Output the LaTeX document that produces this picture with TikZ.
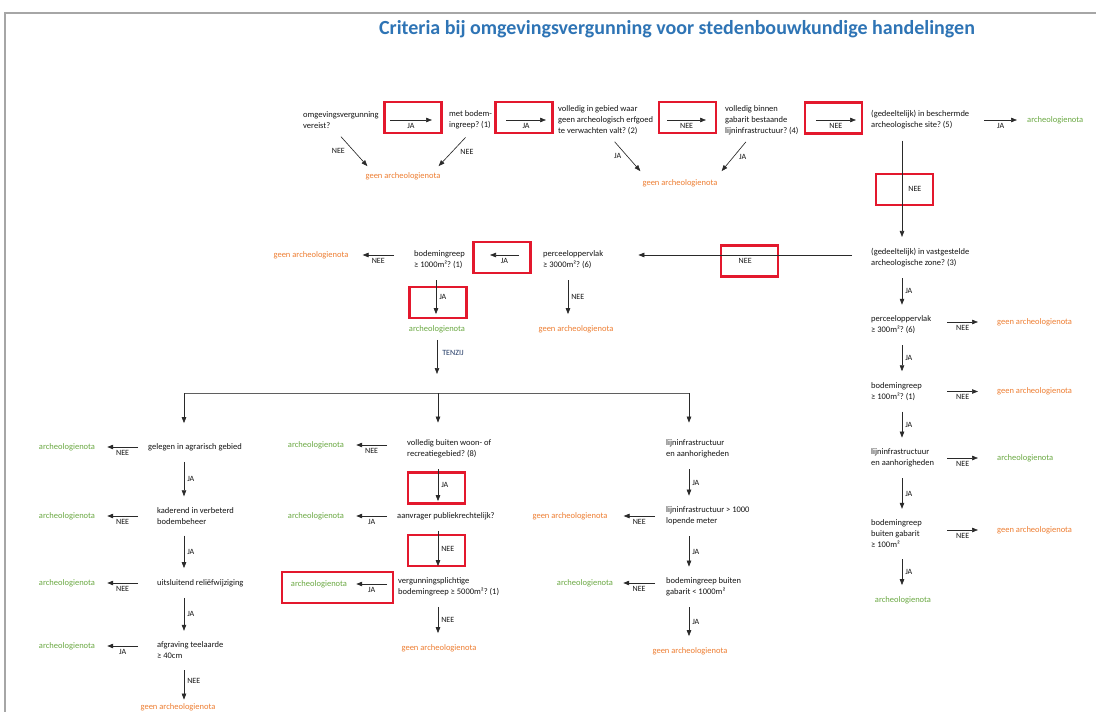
\documentclass[tikz,border=0pt]{standalone}
\usepackage{fontspec}
\setmainfont{Carlito}
\usetikzlibrary{arrows.meta}
\definecolor{titelblauw}{HTML}{2E74B5}
\definecolor{notagroen}{HTML}{6AA842}
\definecolor{geenoranje}{HTML}{ED7D31}
\definecolor{kaderrood}{HTML}{E3182D}
\definecolor{tekst}{HTML}{141414}
\definecolor{pijlgrijs}{HTML}{2A2A2A}
\definecolor{randgrijs}{HTML}{A6A6A6}
\definecolor{tenzijblauw}{HTML}{203864}
\tikzset{
  vraag/.style={anchor=west, align=left, inner sep=0pt, text=tekst, font=\fontsize{8.5}{11}\selectfont\frenchspacing},
  kolom/.style={vraag, align=flush left, text width=66pt},
  nota/.style={inner sep=0pt, text=notagroen, font=\fontsize{8.5}{11}\selectfont},
  geen/.style={nota, text=geenoranje},
  lbl/.style={inner sep=0pt, text=tekst, font=\fontsize{8}{9}\selectfont},
  pijl/.style={draw=pijlgrijs, line width=0.65pt, -{Triangle[length=6pt,width=4.5pt]}},
  neer/.style={pijl, shorten <=11pt, shorten >=11pt},
  tak/.style={draw=pijlgrijs!75, line width=1pt},
  kader/.style={draw=kaderrood, line width=2.5pt, minimum width=57pt, minimum height=31pt, inner sep=0pt},
}
\begin{document}
\begin{tikzpicture}[x=1pt, y=-1pt]
	\useasboundingbox (0,0) rectangle (1096,712);
	\draw[randgrijs, line width=1.5pt] (1096,13) -- (5,13) -- (5,712);
	\node[font=\bfseries\fontsize{20}{22}\selectfont, text=titelblauw] (titel) at (677,29) {Criteria bij omgevingsvergunning voor stedenbouwkundige handelingen};

	\coordinate (kolA) at (184,0);
	\coordinate (kolB) at (436,0);
	\coordinate (kolC) at (568,0);
	\coordinate (kolM) at (438,0);
	\coordinate (kol3) at (689,0);
	\coordinate (kolR) at (902,0);

	% rode kaders
	\node[kader] (k1) at (413,117.5) {};
	\node[kader] (k2) at (524,117.5) {};
	\node[kader] (k3) at (687.5,117.5) {};
	\node[kader] (k4) at (833.5,118) {};
	\node[kader] (k5) at (904.5,189.5) {};
	\node[kader] (k6) at (749.5,261) {};
	\node[kader] (k7) at (502,257.5) {};
	\node[kader] (k8) at (438,302.5) {};
	\node[kader] (k9) at (436.5,488) {};
	\node[kader] (k10) at (436.5,550.5) {};
	\node[kader, minimum width=111pt] (k11) at (337.5,587.5) {};

	% bovenste rij
	\node[vraag] (vergunning) at (303,120) {omgevingsvergunning\\vereist?};
	\node[vraag] (ingreep) at (449,120) {met bodem-\\ingreep? (1)};
	\node[vraag] (erfgoed) at (558,120) {volledig in gebied waar\\geen archeologisch erfgoed\\te verwachten valt? (2)};
	\node[vraag] (gabarit) at (725,120) {volledig binnen\\gabarit bestaande\\lijninfrastructuur? (4)};
	\node[vraag] (site) at (871,120) {(gedeeltelijk) in beschermde\\archeologische site? (5)};
	\node[nota, anchor=west] (notasite) at (1027,120) {archeologienota};
	\node[geen] (geen1) at (403,176) {geen archeologienota};
	\node[geen] (geen2) at (680,183) {geen archeologienota};
	\draw[pijl] ([xshift=11pt]vergunning.east) to node[lbl, below=3pt] {JA} ([xshift=-17pt]ingreep.west);
	\draw[pijl] ([xshift=14pt]ingreep.east) to node[lbl, below=3pt] {JA} ([xshift=-12pt]erfgoed.west);
	\draw[pijl] ([xshift=14pt]erfgoed.east) to node[lbl, below=3pt] {NEE} ([xshift=-19pt]gabarit.west);
	\draw[pijl] ([xshift=17pt]gabarit.east) to node[lbl, below=3pt] {NEE} ([xshift=-15pt]site.west);
	\draw[pijl] ([xshift=15pt]site.east) to node[lbl, below=3pt] {JA} ([xshift=-10pt]notasite.west);
	\draw[pijl] ([yshift=-8pt]vergunning.south) to node[lbl, left=9pt] {NEE} ([xshift=2pt,yshift=6pt]geen1.north west);
	\draw[pijl] ([xshift=-5pt,yshift=-8pt]ingreep.south) to node[lbl, right=8pt] {NEE} ([xshift=-2pt,yshift=6pt]geen1.north east);
	\draw[pijl] ([xshift=9pt,yshift=-7pt]erfgoed.south) to node[lbl, left=6pt] {JA} ([xshift=-2pt,yshift=8pt]geen2.north west);
	\draw[pijl] ([xshift=-16pt,yshift=-7pt]gabarit.south) to node[lbl, right=5pt] {JA} ([xshift=4pt,yshift=8pt]geen2.north east);

	% rechterkolom
	\node[vraag] (zone) at (871,257.5) {(gedeeltelijk) in vastgestelde\\archeologische zone? (3)};
	\node[kolom] (perceel300) at (871,325) {perceeloppervlak\\≥ 300m²? (6)};
	\node[kolom] (ingreep100) at (871,391.5) {bodemingreep\\≥ 100m²? (1)};
	\node[kolom] (lijn) at (871,458) {lijninfrastructuur\\en aanhorigheden};
	\node[kolom] (buiten100) at (871,534) {bodemingreep\\buiten gabarit\\≥ 100m²};
	\node[nota] (notaR) at (903,600) {archeologienota};
	\node[geen, anchor=west] (geen300) at (997,322) {geen archeologienota};
	\node[geen, anchor=west] (geen100) at (997,391.5) {geen archeologienota};
	\node[nota, anchor=west] (notalijn) at (997,458) {archeologienota};
	\node[geen, anchor=west] (geenbuiten) at (997,530) {geen archeologienota};
	\draw[neer] (site.south -| kolR) to node[lbl, right=6pt] {NEE} (zone.north -| kolR);
	\draw[neer] (zone.south -| kolR) to node[lbl, right=3pt] {JA} (perceel300.north -| kolR);
	\draw[neer] (perceel300.south -| kolR) to node[lbl, right=3pt] {JA} (ingreep100.north -| kolR);
	\draw[neer] (ingreep100.south -| kolR) to node[lbl, right=3pt] {JA} (lijn.north -| kolR);
	\draw[neer] (lijn.south -| kolR) to node[lbl, right=3pt] {JA} (buiten100.north -| kolR);
	\draw[neer] (buiten100.south -| kolR) to node[lbl, right=3pt] {JA} (notaR.north -| kolR);
	\draw[pijl] ([xshift=10pt,yshift=3pt]perceel300.east) to node[lbl, below=3pt] {NEE} ([xshift=-19pt]geen300.west);
	\draw[pijl] ([xshift=10pt]ingreep100.east) to node[lbl, below=3pt] {NEE} ([xshift=-19pt]geen100.west);
	\draw[pijl] ([xshift=10pt]lijn.east) to node[lbl, below=3pt] {NEE} ([xshift=-19pt]notalijn.west);
	\draw[pijl] ([xshift=10pt,yshift=4pt]buiten100.east) to node[lbl, below=3pt] {NEE} ([xshift=-19pt]geenbuiten.west);

	% tweede rij
	\node[vraag] (perceel3000) at (543,260) {perceeloppervlak\\≥ 3000m²? (6)};
	\node[vraag] (ingreep1000) at (414,260) {bodemingreep\\≥ 1000m²? (1)};
	\node[geen] (geen1000) at (311,255) {geen archeologienota};
	\node[geen] (geen3000) at (576,329) {geen archeologienota};
	\node[nota] (nota1000) at (437,329) {archeologienota};
	\draw[pijl] ([xshift=-19pt,yshift=2.5pt]zone.west) to node[lbl, below=3pt] {NEE} ([xshift=35pt,yshift=5pt]perceel3000.east);
	\draw[pijl] ([xshift=-24pt,yshift=5pt]perceel3000.west) to node[lbl, below=3pt] {JA} ([xshift=25pt,yshift=5pt]ingreep1000.east);
	\draw[pijl] ([xshift=-20pt,yshift=5pt]ingreep1000.west) to node[lbl, below=3pt] {NEE} ([xshift=14pt]geen1000.east);
	\draw[neer] (perceel3000.south -| kolC) to node[lbl, right=3pt] {NEE} (geen3000.north -| kolC);
	\draw[neer] (ingreep1000.south -| kolB) to node[lbl, right=3pt] {JA} (nota1000.north -| kolB);

	% tenzij
	\coordinate (tenzij) at (437,374);
	\coordinate (splitA) at (184,393);
	\coordinate (splitM) at (438,393);
	\coordinate (split3) at (689,393);
	\draw[pijl, shorten <=7pt] (nota1000.south) to node[lbl, right=5pt, text=tenzijblauw] {TENZIJ} (tenzij);
	\draw[tak] (splitA) -- (split3);

	% linkerkolom
	\node[vraag] (agrarisch) at (148,447) {gelegen in agrarisch gebied};
	\node[vraag] (kaderend) at (157,516) {kaderend in verbeterd\\bodembeheer};
	\node[vraag] (relief) at (157,583) {uitsluitend reliëfwijziging};
	\node[vraag] (teelaarde) at (157,650.5) {afgraving teelaarde\\≥ 40cm};
	\node[geen] (geenteel) at (178,707.5) {geen archeologienota};
	\node[nota] (notaagr) at (67,447) {archeologienota};
	\node[nota] (notakad) at (67,516) {archeologienota};
	\node[nota] (notarel) at (67,583) {archeologienota};
	\node[nota] (notateel) at (67,646) {archeologienota};
	\draw[pijl, shorten >=20pt] (splitA) -- (agrarisch.north -| splitA);
	\draw[neer] (agrarisch.south -| kolA) to node[lbl, right=3pt] {JA} (kaderend.north -| kolA);
	\draw[neer] (kaderend.south -| kolA) to node[lbl, right=3pt] {JA} (relief.north -| kolA);
	\draw[neer] (relief.south -| kolA) to node[lbl, right=3pt] {JA} (teelaarde.north -| kolA);
	\draw[neer, shorten >=4pt] (teelaarde.south -| kolA) to node[lbl, right=3pt] {NEE} (geenteel.north -| kolA);
	\draw[pijl] ([xshift=-10pt]agrarisch.west) to node[lbl, below=3pt] {NEE} ([xshift=12pt]notaagr.east);
	\draw[pijl] ([xshift=-19pt]kaderend.west) to node[lbl, below=3pt] {NEE} ([xshift=12pt]notakad.east);
	\draw[pijl] ([xshift=-19pt]relief.west) to node[lbl, below=3pt] {NEE} ([xshift=12pt]notarel.east);
	\draw[pijl] ([xshift=-19pt,yshift=4.5pt]teelaarde.west) to node[lbl, below=3pt] {JA} ([xshift=12pt]notateel.east);

	% middenkolom
	\node[vraag] (buitenwoon) at (407,449) {volledig buiten woon- of\\recreatiegebied? (8)};
	\node[vraag] (publiek) at (397,516) {aanvrager publiekrechtelijk?};
	\node[vraag] (ingreep5000) at (398,586.5) {vergunningsplichtige\\bodemingreep ≥ 5000m²? (1)};
	\node[geen] (geen5000) at (439,648) {geen archeologienota};
	\node[nota] (notawoon) at (316,445) {archeologienota};
	\node[nota] (notapubliek) at (316,516) {archeologienota};
	\node[nota] (nota5000) at (319,584) {archeologienota};
	\draw[pijl, shorten >=17pt] (splitM) -- (buitenwoon.north -| splitM);
	\draw[neer] (buitenwoon.south -| kolM) to node[lbl, right=3pt] {JA} (publiek.north -| kolM);
	\draw[neer] (publiek.south -| kolM) to node[lbl, right=3pt] {NEE} (ingreep5000.north -| kolM);
	\draw[neer] (ingreep5000.south -| kolM) to node[lbl, right=3pt] {NEE} (geen5000.north -| kolM);
	\draw[pijl] ([xshift=-20pt,yshift=4pt]buitenwoon.west) to node[lbl, below=3pt] {NEE} ([xshift=12pt]notawoon.east);
	\draw[pijl] ([xshift=-10pt]publiek.west) to node[lbl, below=3pt] {JA} ([xshift=12pt]notapubliek.east);
	\draw[pijl] ([xshift=-11pt,yshift=2.5pt]ingreep5000.west) to node[lbl, below=3pt] {JA} ([xshift=9pt]nota5000.east);

	% derde kolom
	\node[vraag] (lijn3) at (666,449) {lijninfrastructuur\\en aanhorigheden};
	\node[vraag] (lopend) at (666,516) {lijninfrastructuur > 1000\\lopende meter};
	\node[vraag] (buiten1000) at (666,587) {bodemingreep buiten\\gabarit < 1000m²};
	\node[geen] (geen3) at (690,651) {geen archeologienota};
	\node[geen] (geenlopend) at (570,516) {geen archeologienota};
	\node[nota] (notabuiten) at (585,583) {archeologienota};
	\draw[pijl, shorten >=17pt] (split3) -- (lijn3.north -| split3);
	\draw[neer] (lijn3.south -| kol3) to node[lbl, right=3pt] {JA} (lopend.north -| kol3);
	\draw[neer] (lopend.south -| kol3) to node[lbl, right=3pt] {JA} (buiten1000.north -| kol3);
	\draw[neer] (buiten1000.south -| kol3) to node[lbl, right=3pt] {JA} (geen3.north -| kol3);
	\draw[pijl] ([xshift=-11pt]lopend.west) to node[lbl, below=3pt] {NEE} ([xshift=16pt]geenlopend.east);
	\draw[pijl] ([xshift=-11pt,yshift=4pt]buiten1000.west) to node[lbl, below=3pt] {NEE} ([xshift=10pt]notabuiten.east);
\end{tikzpicture}
\end{document}
